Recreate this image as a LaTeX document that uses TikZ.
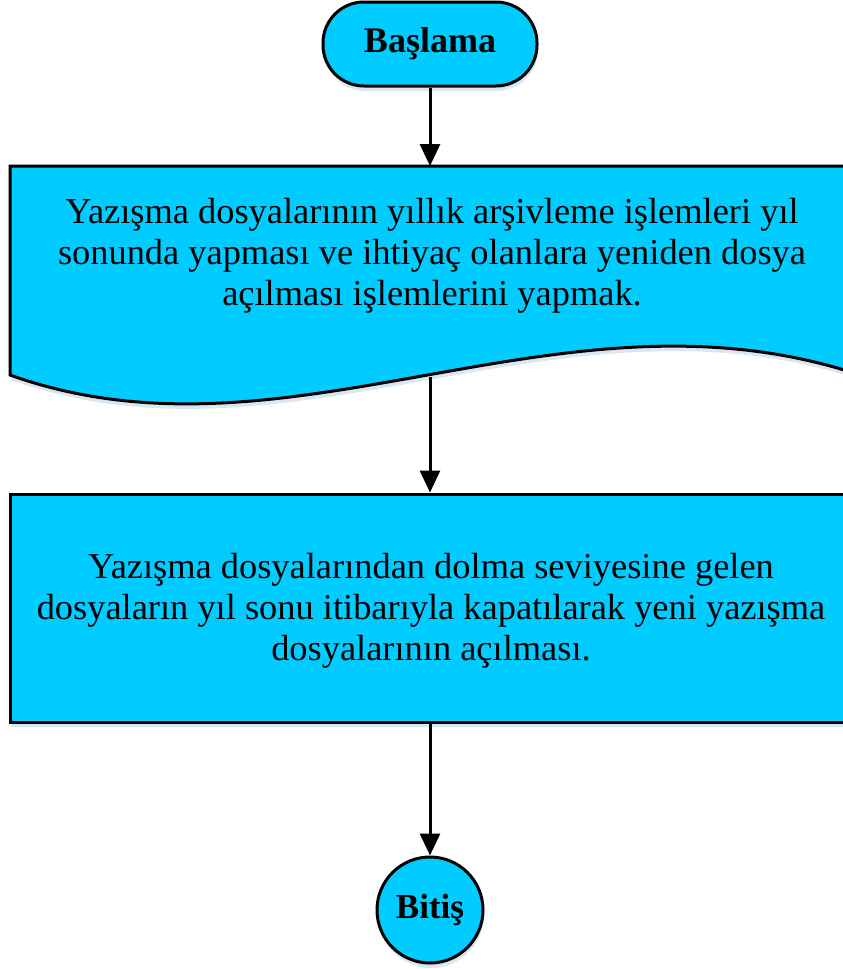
\documentclass[tikz,border=0pt]{standalone}
\usepackage{fontspec}
\setmainfont{Liberation Serif}
\usetikzlibrary{arrows.meta,shadows}
\definecolor{flowfill}{RGB}{0,204,255}
\definecolor{shadowc}{RGB}{218,230,240}
\begin{document}
\begin{tikzpicture}[x=1pt,y=-1pt,
  shapeline/.style={draw=black,line width=3pt,fill=flowfill},
  shadowed/.style={drop shadow={shadow xshift=1pt,shadow yshift=-5pt,fill=shadowc,opacity=1}},
  terminal/.style={shapeline,shadowed,rectangle,rounded corners=41pt,minimum width=214pt,minimum height=84pt,inner sep=0pt,font=\fontsize{36}{40}\selectfont\bfseries},
  endpoint/.style={shapeline,shadowed,circle,minimum size=106pt,inner sep=0pt,font=\fontsize{35}{40}\selectfont\bfseries},
  bodytext/.style={align=center,inner sep=0pt,font=\fontsize{36.4}{41}\selectfont},
  procbox/.style={shapeline,shadowed,rectangle,minimum width=850pt,minimum height=228pt,inner sep=0pt},
  flow/.style={line width=3pt,-{Triangle[width=20pt,length=22pt]}}]
\useasboundingbox (0,0) rectangle (843,969);
\clip (0,0) rectangle (843,969);
% document shape
\fill[shadowc,shift={(1,5)}] (10,166) -- (860,166) -- (860,375) .. controls (560,275) and (290,475) .. (10,375) -- cycle;
\path[shapeline] (10,166) -- (860,166) -- (860,375) .. controls (560,275) and (290,475) .. (10,375) -- cycle;
\coordinate (doctop) at (430,166);
\coordinate (docbot) at (430,377);
\node[bodytext] (doctext) at (432,256) {Yazışma dosyalarının yıllık arşivleme işlemleri yıl\\sonunda yapması ve ihtiyaç olanlara yeniden dosya\\açılması işlemlerini yapmak.};
% nodes
\node[terminal] (start) at (430,44) {Başlama};
\node[procbox] (proc) at (435,608) {};
\node[bodytext] (proctext) at (431,611) {Yazışma dosyalarından dolma seviyesine gelen\\dosyaların yıl sonu itibarıyla kapatılarak yeni yazışma\\dosyalarının açılması.};
\node[endpoint] (finish) at (430,910) {Bitiş};
% connectors
\draw[flow] (start.south) -- (doctop);
\draw[flow] (docbot) -- (docbot |- proc.north);
\draw[flow] (finish.north |- proc.south) -- (finish.north);
\end{tikzpicture}
\end{document}
